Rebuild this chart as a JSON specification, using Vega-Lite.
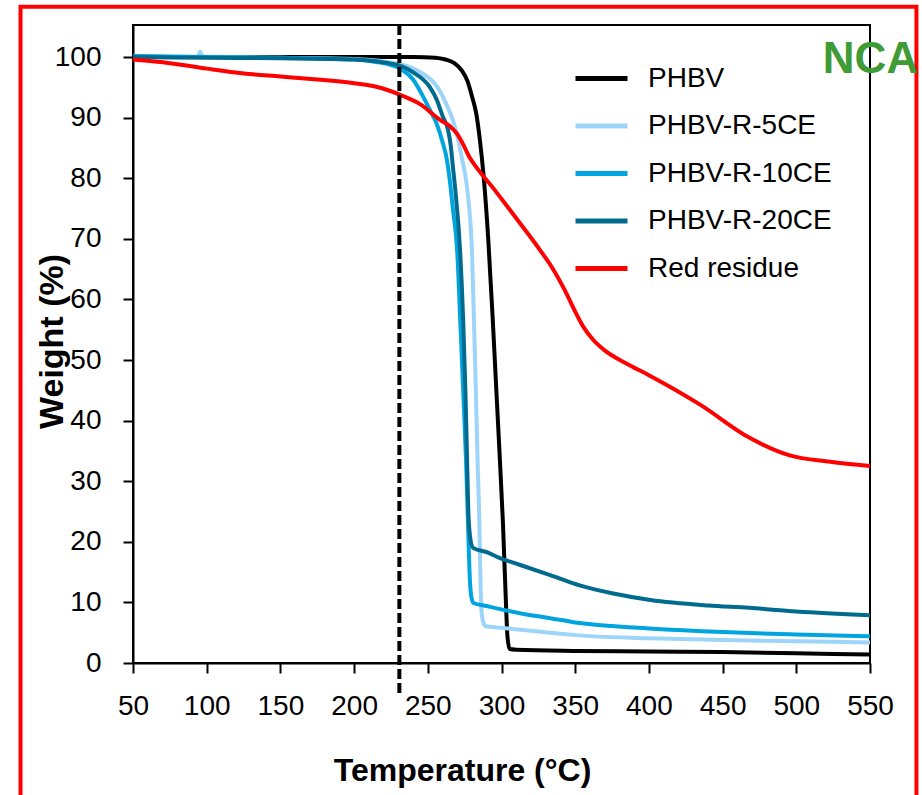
{
  "$schema": "https://vega.github.io/schema/vega-lite/v6.json",
  "width": 737,
  "height": 638,
  "autosize": {"type": "none"},
  "padding": {"left": 133, "top": 25, "right": 52, "bottom": 132},
  "background": "white",
  "config": {
    "view": {"stroke": "black", "strokeWidth": 2},
    "font": "Liberation Sans"
  },
  "data": {"values": [
    {"series":"PHBV","temp":50,"weight":100},
    {"series":"PHBV","temp":100,"weight":100},
    {"series":"PHBV","temp":150,"weight":100},
    {"series":"PHBV","temp":200,"weight":100},
    {"series":"PHBV","temp":240,"weight":100},
    {"series":"PHBV","temp":255,"weight":99.9},
    {"series":"PHBV","temp":262,"weight":99.6},
    {"series":"PHBV","temp":268,"weight":99},
    {"series":"PHBV","temp":273,"weight":97.8},
    {"series":"PHBV","temp":277,"weight":96},
    {"series":"PHBV","temp":280,"weight":93.5},
    {"series":"PHBV","temp":283,"weight":90.5},
    {"series":"PHBV","temp":285,"weight":87},
    {"series":"PHBV","temp":288,"weight":80},
    {"series":"PHBV","temp":291,"weight":70},
    {"series":"PHBV","temp":294,"weight":57},
    {"series":"PHBV","temp":296.5,"weight":45},
    {"series":"PHBV","temp":298.6,"weight":35},
    {"series":"PHBV","temp":301,"weight":23},
    {"series":"PHBV","temp":303,"weight":10},
    {"series":"PHBV","temp":304,"weight":4.5},
    {"series":"PHBV","temp":305.5,"weight":2.3},
    {"series":"PHBV","temp":310,"weight":2.2},
    {"series":"PHBV","temp":350,"weight":2.0},
    {"series":"PHBV","temp":400,"weight":1.9},
    {"series":"PHBV","temp":450,"weight":1.8},
    {"series":"PHBV","temp":500,"weight":1.6},
    {"series":"PHBV","temp":550,"weight":1.4},

    {"series":"PHBV-R-5CE","temp":50,"weight":100.2},
    {"series":"PHBV-R-5CE","temp":94,"weight":100},
    {"series":"PHBV-R-5CE","temp":95.5,"weight":100.9},
    {"series":"PHBV-R-5CE","temp":97,"weight":100.1},
    {"series":"PHBV-R-5CE","temp":150,"weight":99.9},
    {"series":"PHBV-R-5CE","temp":200,"weight":99.7},
    {"series":"PHBV-R-5CE","temp":232,"weight":98.8},
    {"series":"PHBV-R-5CE","temp":245,"weight":97.5},
    {"series":"PHBV-R-5CE","temp":258,"weight":94.5},
    {"series":"PHBV-R-5CE","temp":263,"weight":92},
    {"series":"PHBV-R-5CE","temp":267,"weight":89.6},
    {"series":"PHBV-R-5CE","temp":270,"weight":87},
    {"series":"PHBV-R-5CE","temp":273,"weight":83.5},
    {"series":"PHBV-R-5CE","temp":276.6,"weight":78.5},
    {"series":"PHBV-R-5CE","temp":280,"weight":67.7},
    {"series":"PHBV-R-5CE","temp":281.3,"weight":56.6},
    {"series":"PHBV-R-5CE","temp":282.6,"weight":45},
    {"series":"PHBV-R-5CE","temp":283.8,"weight":33},
    {"series":"PHBV-R-5CE","temp":285,"weight":23},
    {"series":"PHBV-R-5CE","temp":285.7,"weight":14},
    {"series":"PHBV-R-5CE","temp":286.3,"weight":9},
    {"series":"PHBV-R-5CE","temp":287.5,"weight":6.8},
    {"series":"PHBV-R-5CE","temp":289,"weight":6.1},
    {"series":"PHBV-R-5CE","temp":300,"weight":5.8},
    {"series":"PHBV-R-5CE","temp":333,"weight":5.0},
    {"series":"PHBV-R-5CE","temp":350,"weight":4.6},
    {"series":"PHBV-R-5CE","temp":400,"weight":4.1},
    {"series":"PHBV-R-5CE","temp":450,"weight":3.8},
    {"series":"PHBV-R-5CE","temp":500,"weight":3.6},
    {"series":"PHBV-R-5CE","temp":550,"weight":3.4},

    {"series":"PHBV-R-10CE","temp":50,"weight":100.2},
    {"series":"PHBV-R-10CE","temp":100,"weight":100},
    {"series":"PHBV-R-10CE","temp":150,"weight":99.9},
    {"series":"PHBV-R-10CE","temp":200,"weight":99.6},
    {"series":"PHBV-R-10CE","temp":215,"weight":99.2},
    {"series":"PHBV-R-10CE","temp":225,"weight":98.7},
    {"series":"PHBV-R-10CE","temp":232,"weight":98},
    {"series":"PHBV-R-10CE","temp":240,"weight":96.3},
    {"series":"PHBV-R-10CE","temp":247,"weight":93.4},
    {"series":"PHBV-R-10CE","temp":252,"weight":91},
    {"series":"PHBV-R-10CE","temp":256,"weight":89},
    {"series":"PHBV-R-10CE","temp":260,"weight":86},
    {"series":"PHBV-R-10CE","temp":263,"weight":83},
    {"series":"PHBV-R-10CE","temp":265,"weight":79.5},
    {"series":"PHBV-R-10CE","temp":267,"weight":75},
    {"series":"PHBV-R-10CE","temp":270,"weight":67.7},
    {"series":"PHBV-R-10CE","temp":272,"weight":56.6},
    {"series":"PHBV-R-10CE","temp":274,"weight":45},
    {"series":"PHBV-R-10CE","temp":276,"weight":33},
    {"series":"PHBV-R-10CE","temp":277.2,"weight":23.6},
    {"series":"PHBV-R-10CE","temp":278.5,"weight":14},
    {"series":"PHBV-R-10CE","temp":279.5,"weight":11},
    {"series":"PHBV-R-10CE","temp":281,"weight":9.9},
    {"series":"PHBV-R-10CE","temp":290,"weight":9.4},
    {"series":"PHBV-R-10CE","temp":299,"weight":8.9},
    {"series":"PHBV-R-10CE","temp":315,"weight":8.1},
    {"series":"PHBV-R-10CE","temp":333,"weight":7.4},
    {"series":"PHBV-R-10CE","temp":350,"weight":6.7},
    {"series":"PHBV-R-10CE","temp":375,"weight":6.1},
    {"series":"PHBV-R-10CE","temp":400,"weight":5.7},
    {"series":"PHBV-R-10CE","temp":450,"weight":5.1},
    {"series":"PHBV-R-10CE","temp":500,"weight":4.7},
    {"series":"PHBV-R-10CE","temp":550,"weight":4.4},

    {"series":"PHBV-R-20CE","temp":50,"weight":100},
    {"series":"PHBV-R-20CE","temp":100,"weight":99.9},
    {"series":"PHBV-R-20CE","temp":150,"weight":99.8},
    {"series":"PHBV-R-20CE","temp":200,"weight":99.6},
    {"series":"PHBV-R-20CE","temp":215,"weight":99.3},
    {"series":"PHBV-R-20CE","temp":232,"weight":98.5},
    {"series":"PHBV-R-20CE","temp":240,"weight":97.5},
    {"series":"PHBV-R-20CE","temp":251.5,"weight":95},
    {"series":"PHBV-R-20CE","temp":256,"weight":93},
    {"series":"PHBV-R-20CE","temp":260,"weight":90.3},
    {"series":"PHBV-R-20CE","temp":263.7,"weight":88},
    {"series":"PHBV-R-20CE","temp":265.5,"weight":85.5},
    {"series":"PHBV-R-20CE","temp":267,"weight":82},
    {"series":"PHBV-R-20CE","temp":268.5,"weight":78.5},
    {"series":"PHBV-R-20CE","temp":272,"weight":67.7},
    {"series":"PHBV-R-20CE","temp":274,"weight":56.6},
    {"series":"PHBV-R-20CE","temp":275.5,"weight":45},
    {"series":"PHBV-R-20CE","temp":276.5,"weight":35},
    {"series":"PHBV-R-20CE","temp":277.5,"weight":25},
    {"series":"PHBV-R-20CE","temp":278.6,"weight":21},
    {"series":"PHBV-R-20CE","temp":280.7,"weight":19},
    {"series":"PHBV-R-20CE","temp":290,"weight":18.3},
    {"series":"PHBV-R-20CE","temp":299,"weight":17.3},
    {"series":"PHBV-R-20CE","temp":310,"weight":16.4},
    {"series":"PHBV-R-20CE","temp":333,"weight":14.5},
    {"series":"PHBV-R-20CE","temp":353,"weight":12.8},
    {"series":"PHBV-R-20CE","temp":375,"weight":11.5},
    {"series":"PHBV-R-20CE","temp":401,"weight":10.4},
    {"series":"PHBV-R-20CE","temp":440,"weight":9.5},
    {"series":"PHBV-R-20CE","temp":468,"weight":9.1},
    {"series":"PHBV-R-20CE","temp":500,"weight":8.5},
    {"series":"PHBV-R-20CE","temp":550,"weight":7.9},

    {"series":"Red residue","temp":50,"weight":99.6},
    {"series":"Red residue","temp":75,"weight":99},
    {"series":"Red residue","temp":100,"weight":98.1},
    {"series":"Red residue","temp":125,"weight":97.3},
    {"series":"Red residue","temp":150,"weight":96.8},
    {"series":"Red residue","temp":175,"weight":96.3},
    {"series":"Red residue","temp":200,"weight":95.7},
    {"series":"Red residue","temp":215,"weight":95.1},
    {"series":"Red residue","temp":232,"weight":93.7},
    {"series":"Red residue","temp":245,"weight":92.2},
    {"series":"Red residue","temp":258,"weight":89.7},
    {"series":"Red residue","temp":265,"weight":88.6},
    {"series":"Red residue","temp":270,"weight":87.3},
    {"series":"Red residue","temp":274,"weight":85.6},
    {"series":"Red residue","temp":278,"weight":83.6},
    {"series":"Red residue","temp":283,"weight":81.8},
    {"series":"Red residue","temp":294,"weight":78.5},
    {"series":"Red residue","temp":305,"weight":75},
    {"series":"Red residue","temp":315,"weight":71.8},
    {"series":"Red residue","temp":326,"weight":68.2},
    {"series":"Red residue","temp":335,"weight":65},
    {"series":"Red residue","temp":343,"weight":61.5},
    {"series":"Red residue","temp":350,"weight":58},
    {"series":"Red residue","temp":356,"weight":55.3},
    {"series":"Red residue","temp":362,"weight":53.4},
    {"series":"Red residue","temp":370,"weight":51.6},
    {"series":"Red residue","temp":385,"weight":49.4},
    {"series":"Red residue","temp":400,"weight":47.5},
    {"series":"Red residue","temp":435,"weight":42.6},
    {"series":"Red residue","temp":468,"weight":37.2},
    {"series":"Red residue","temp":495,"weight":34.3},
    {"series":"Red residue","temp":523,"weight":33.2},
    {"series":"Red residue","temp":550,"weight":32.5}
  ]},
  "layer": [
    {
      "data": {"values": [{}]},
      "mark": {"type": "rect", "filled": false, "stroke": "#FF0000", "strokeWidth": 4, "clip": false},
      "encoding": {
        "x": {"datum": -26.3, "type": "quantitative", "scale": {"domain": [50, 550]}},
        "x2": {"datum": 581.5},
        "y": {"datum": 108.3, "type": "quantitative", "scale": {"domain": [0, 105.3]}},
        "y2": {"datum": -25}
      }
    },
    {
      "mark": {"type": "line", "strokeWidth": 4, "interpolate": "monotone", "clip": false},
      "encoding": {
        "x": {
          "field": "temp", "type": "quantitative",
          "scale": {"domain": [50, 550], "nice": false, "zero": false},
          "axis": {
            "values": [50,100,150,200,250,300,350,400,450,500,550],
            "title": "Temperature (°C)",
            "grid": false, "labelFlush": false, "labelOverlap": false,
            "domainColor": "black", "domainWidth": 2,
            "tickColor": "black", "tickWidth": 2, "tickSize": 10,
            "labelFontSize": 28, "labelColor": "black", "labelPadding": 19,
            "labelFont": "Liberation Sans",
            "titleFont": "Liberation Sans", "titleFontSize": 32, "titleFontWeight": "bold", "titleColor": "black",
            "titleX": 329, "titleY": 107, "titleBaseline": "middle", "titleAlign": "center"
          }
        },
        "y": {
          "field": "weight", "type": "quantitative",
          "scale": {"domain": [0, 105.3], "nice": false},
          "axis": {
            "values": [0,10,20,30,40,50,60,70,80,90,100],
            "title": "Weight (%)",
            "grid": false, "labelFlush": false, "labelOverlap": false,
            "domainColor": "black", "domainWidth": 2,
            "tickColor": "black", "tickWidth": 2, "tickSize": 10,
            "labelFontSize": 28, "labelColor": "black", "labelPadding": 22,
            "labelFont": "Liberation Sans",
            "titleFont": "Liberation Sans", "titleFontSize": 34, "titleFontWeight": "bold", "titleColor": "black",
            "titleX": -81, "titleY": 316, "titleBaseline": "middle", "titleAlign": "center", "titleAngle": -90
          }
        },
        "color": {
          "field": "series", "type": "nominal",
          "scale": {
            "domain": ["PHBV","PHBV-R-5CE","PHBV-R-10CE","PHBV-R-20CE","Red residue"],
            "range": ["#000000","#9DD5FA","#00A5E0","#006B8F","#FF0000"]
          },
          "legend": {
            "orient": "none", "legendX": 440, "legendY": 25,
            "title": null, "padding": 0,
            "symbolType": "stroke", "symbolStrokeWidth": 5, "symbolSize": 2704,
            "labelFontSize": 28, "labelFont": "Liberation Sans", "labelColor": "black",
            "labelOffset": 18, "rowPadding": 4.5, "labelLimit": 400
          }
        }
      }
    },
    {
      "data": {"values": [{}]},
      "mark": {"type": "rule", "color": "black", "strokeWidth": 4, "strokeDash": [10, 4], "clip": false},
      "encoding": {
        "x": {"datum": 230.7, "type": "quantitative"},
        "y": {"datum": 105.3, "type": "quantitative"},
        "y2": {"datum": -5.3}
      }
    },
    {
      "data": {"values": [{"label": "NCA"}]},
      "mark": {"type": "text", "color": "#3E9B36", "fontSize": 44, "fontWeight": "bold", "font": "Liberation Sans", "align": "left", "baseline": "alphabetic", "clip": false},
      "encoding": {
        "x": {"datum": 518, "type": "quantitative"},
        "y": {"datum": 97.3, "type": "quantitative"},
        "text": {"field": "label"}
      }
    }
  ]
}
